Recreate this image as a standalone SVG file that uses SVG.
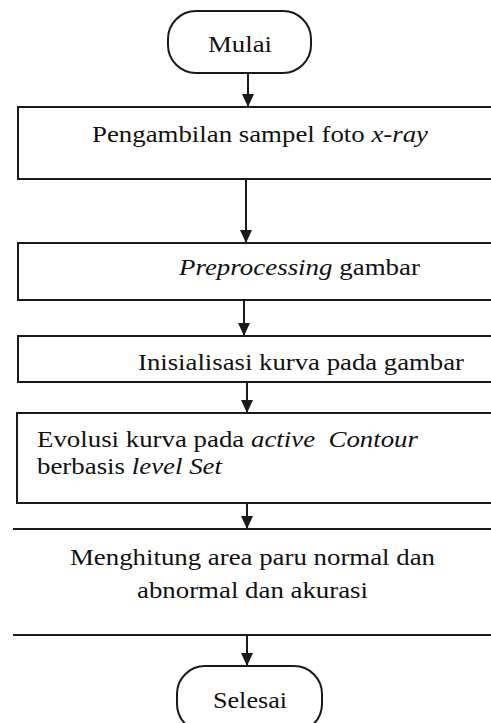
<svg xmlns="http://www.w3.org/2000/svg" width="491" height="723" viewBox="0 0 491 723">
<style>
  .box { fill: #fff; stroke: #1a1a1a; stroke-width: 2; }
  .ln { fill: none; stroke: #1a1a1a; stroke-width: 2; }
  .t { font-family: "Liberation Serif", "Times New Roman", serif; font-size: 24px; fill: #111; }
  .i { font-style: italic; }
  .conn { stroke: #1a1a1a; stroke-width: 2; fill: none; marker-end: url(#ah); }
</style>
<defs>
  <marker id="ah" markerWidth="13" markerHeight="12" viewBox="0 0 13 12" refX="13" refY="6" orient="auto" markerUnits="userSpaceOnUse">
    <path d="M0,0 L13,6 L0,12 Z" fill="#1a1a1a"/>
  </marker>
</defs>
<rect width="491" height="723" fill="#fff"/>
<g id="connectors">
  <line class="conn" x1="248" y1="73" x2="248" y2="107"/>
  <line class="conn" x1="246" y1="179" x2="246" y2="243"/>
  <line class="conn" x1="244" y1="300" x2="244" y2="336"/>
  <line class="conn" x1="247" y1="382" x2="247" y2="413"/>
  <line class="conn" x1="247" y1="503" x2="247" y2="529"/>
  <line class="conn" x1="247" y1="635" x2="247" y2="666"/>
</g>
<g id="mulai">
  <rect class="box" x="168" y="11" width="143" height="62" rx="28"/>
  <text class="t" x="208" y="52" textLength="64" lengthAdjust="spacingAndGlyphs">Mulai</text>
</g>
<g id="pengambilan">
  <rect class="box" x="18" y="107" width="490" height="72"/>
  <text class="t" x="92" y="142" textLength="336" lengthAdjust="spacingAndGlyphs">Pengambilan sampel foto <tspan class="i">x-ray</tspan></text>
</g>
<g id="preprocessing">
  <rect class="box" x="18" y="243" width="490" height="57"/>
  <text class="t" x="179" y="275" textLength="241" lengthAdjust="spacingAndGlyphs"><tspan class="i">Preprocessing</tspan> gambar</text>
</g>
<g id="inisialisasi">
  <rect class="box" x="18" y="336" width="490" height="46"/>
  <text class="t" x="138" y="370" textLength="326" lengthAdjust="spacingAndGlyphs">Inisialisasi kurva pada gambar</text>
</g>
<g id="evolusi">
  <rect class="box" x="17" y="413" width="490" height="90"/>
  <text class="t" x="37" y="447" textLength="381" lengthAdjust="spacingAndGlyphs" xml:space="preserve">Evolusi kurva pada <tspan class="i">active  Contour</tspan></text>
  <text class="t" x="37" y="474" textLength="185" lengthAdjust="spacingAndGlyphs">berbasis <tspan class="i">level Set</tspan></text>
</g>
<g id="menghitung">
  <line class="ln" x1="13" y1="529" x2="491" y2="529"/>
  <line class="ln" x1="13" y1="635" x2="491" y2="635"/>
  <text class="t" x="70" y="565" textLength="365" lengthAdjust="spacingAndGlyphs">Menghitung area paru normal dan</text>
  <text class="t" x="137" y="598" textLength="231" lengthAdjust="spacingAndGlyphs">abnormal dan akurasi</text>
</g>
<g id="selesai">
  <rect class="box" x="177" y="666" width="145" height="66" rx="28"/>
  <text class="t" x="213" y="708" textLength="74" lengthAdjust="spacingAndGlyphs">Selesai</text>
</g>
</svg>
